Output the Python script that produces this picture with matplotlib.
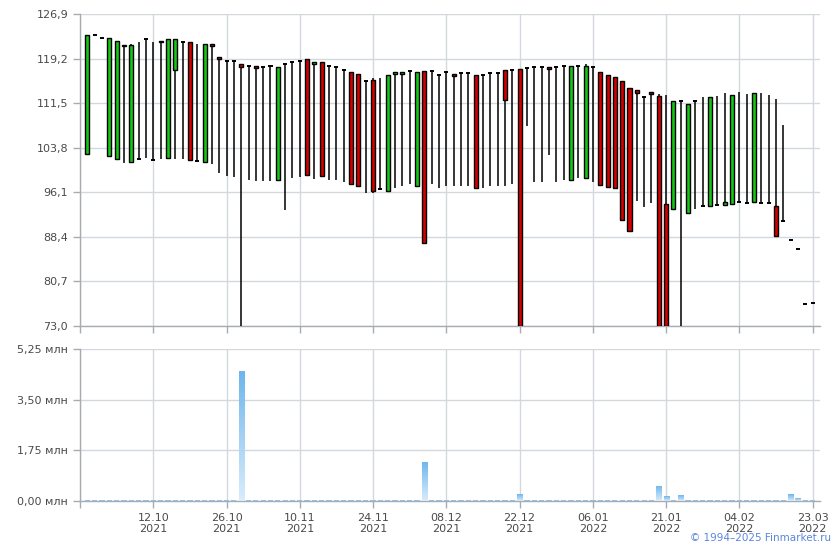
import matplotlib.pyplot as plt
import numpy as np
from matplotlib.colors import LinearSegmentedColormap

# OHLC, one entry per trading day
opens = [102.7, 123.3, 122.7, 102.4, 101.8, 121.5, 101.3, 101.8, 122.5, 101.6,
         122.2, 102.1, 117.2, 122.0, 122.0, 101.5, 101.3, 121.7, 119.4, 118.7,
         118.7, 118.2, 118.0, 118.0, 117.8, 117.9, 98.2, 118.3, 118.6, 118.7,
         119.1, 118.2, 118.6, 118.0, 117.7, 117.3, 116.9, 116.5, 115.3, 115.5,
         96.6, 96.4, 116.5, 116.5, 117.0, 97.1, 117.05, 117.05, 116.3, 116.9,
         116.5, 116.7, 116.7, 116.3, 116.3, 116.7, 116.7, 117.2, 117.2, 117.35,
         117.5, 117.7, 117.7, 117.7, 117.7, 117.9, 98.2, 118.0, 98.5, 117.7,
         116.8, 116.3, 116.1, 115.4, 114.1, 113.7, 112.5, 113.5, 112.7, 94.0,
         93.2, 111.8, 92.6, 111.8, 93.7, 93.7, 93.9, 93.85, 94.0, 94.4,
         94.25, 94.4, 94.25, 94.2, 93.7, 91.1, 87.8, 86.25, 76.75, 76.9]
highs = [123.3, 123.3, 122.7, 122.7, 122.2, 121.5, 121.7, 122.1, 122.5, 122.0,
         122.2, 122.5, 122.5, 122.0, 122.0, 121.7, 121.7, 121.7, 119.4, 118.7,
         118.7, 118.2, 118.0, 118.0, 117.8, 117.9, 117.8, 118.3, 118.6, 118.7,
         119.1, 118.6, 118.6, 118.0, 117.7, 117.3, 116.9, 116.5, 115.3, 115.8,
         115.8, 116.4, 116.9, 116.9, 117.0, 116.9, 117.05, 117.05, 116.3, 116.9,
         116.5, 116.7, 116.7, 116.3, 116.3, 116.7, 116.7, 117.2, 117.2, 117.35,
         117.5, 117.7, 117.7, 117.7, 117.7, 117.9, 117.9, 118.0, 118.2, 117.7,
         116.8, 116.3, 116.1, 115.4, 114.1, 113.7, 112.5, 113.5, 113.0, 112.85,
         111.8, 111.8, 111.3, 111.8, 112.5, 112.5, 112.7, 113.2, 112.85, 113.4,
         113.0, 113.2, 113.2, 112.85, 112.3, 107.7, 87.8, 86.25, 76.75, 76.9]
lows = [102.7, 123.3, 122.7, 102.4, 101.8, 101.2, 101.3, 101.8, 102.1, 101.6,
        101.8, 102.1, 101.9, 101.9, 101.6, 101.5, 101.3, 101.0, 99.4, 98.9,
        98.8, 73.0, 98.2, 98.1, 98.1, 98.0, 98.2, 93.0, 98.6, 98.8,
        99.0, 98.4, 98.9, 98.3, 98.2, 97.8, 97.5, 97.1, 95.9, 96.0,
        96.5, 96.4, 96.9, 97.1, 97.5, 97.1, 87.3, 97.5, 96.8, 97.2,
        97.1, 97.1, 97.1, 96.9, 96.9, 97.1, 97.1, 97.2, 97.5, 73.0,
        107.6, 97.9, 97.9, 102.6, 97.9, 98.2, 98.2, 98.5, 98.5, 97.9,
        97.3, 96.96, 96.8, 91.3, 89.4, 94.65, 93.6, 94.2, 73.0, 73.0,
        93.2, 73.0, 92.6, 93.2, 93.7, 93.7, 93.9, 93.85, 94.0, 94.4,
        94.25, 94.4, 94.25, 94.2, 88.5, 91.1, 87.8, 86.25, 76.75, 76.9]
closes = [123.3, 123.3, 122.7, 122.7, 122.2, 121.3, 121.5, 101.8, 122.5, 101.6,
          122.0, 122.5, 122.5, 122.0, 101.6, 101.5, 121.7, 121.3, 119.2, 118.7,
          118.7, 117.7, 118.0, 117.6, 117.8, 117.9, 117.7, 118.3, 118.6, 118.7,
          99.0, 118.6, 98.9, 118.0, 117.7, 117.3, 97.5, 97.1, 115.3, 96.4,
          96.6, 116.4, 116.9, 116.9, 117.0, 116.9, 87.3, 117.05, 116.3, 116.9,
          116.2, 116.7, 116.7, 96.9, 116.3, 116.7, 116.7, 112.0, 117.2, 73.0,
          117.5, 117.7, 117.7, 117.35, 117.7, 117.9, 117.9, 118.0, 118.0, 117.7,
          97.3, 96.96, 96.8, 91.3, 89.4, 113.2, 112.5, 113.0, 73.0, 73.0,
          111.8, 111.8, 111.3, 111.8, 93.7, 112.5, 93.9, 94.4, 112.85, 94.4,
          94.25, 113.2, 94.25, 94.2, 88.5, 91.1, 87.8, 86.25, 76.75, 76.9]

# volume, mln
volumes = [0.05, 0.05, 0.05, 0.05, 0.05, 0.05, 0.05, 0.05, 0.05, 0.05,
           0.05, 0.05, 0.05, 0.05, 0.05, 0.05, 0.05, 0.05, 0.05, 0.05,
           0.05, 4.49, 0.05, 0.05, 0.05, 0.05, 0.05, 0.05, 0.05, 0.05,
           0.05, 0.05, 0.05, 0.05, 0.05, 0.05, 0.05, 0.05, 0.05, 0.05,
           0.05, 0.05, 0.05, 0.05, 0.05, 0.05, 1.36, 0.05, 0.05, 0.05,
           0.05, 0.05, 0.05, 0.05, 0.05, 0.05, 0.05, 0.05, 0.05, 0.24,
           0.05, 0.05, 0.05, 0.05, 0.05, 0.05, 0.05, 0.05, 0.05, 0.05,
           0.05, 0.05, 0.05, 0.05, 0.05, 0.05, 0.05, 0.05, 0.52, 0.17,
           0.05, 0.20, 0.05, 0.05, 0.05, 0.05, 0.05, 0.05, 0.05, 0.05,
           0.05, 0.05, 0.05, 0.05, 0.05, 0.05, 0.24, 0.10, 0.05, 0.05]

tick_pos = [-1, 9, 19, 29, 39, 49, 59, 69, 79, 89, 99]
tick_labels = ['', '12.10\n2021', '26.10\n2021', '10.11\n2021', '24.11\n2021', '08.12\n2021',
               '22.12\n2021', '06.01\n2022', '21.01\n2022', '04.02\n2022', '23.03\n2022']
price_ticks = [73.0, 80.7, 88.4, 96.1, 103.8, 111.5, 119.2, 126.9]
vol_ticks = [0.0, 1.75, 3.5, 5.25]

grid_c = '#d3d8dc'
axis_c = '#a8acb2'
text_c = '#4a4a4a'

fig = plt.figure(figsize=(8.4, 5.5), dpi=100)
ax = fig.add_axes([80/840, 1-326/550, 740/840, 312/550])
axv = fig.add_axes([80/840, 1-501/550, 740/840, 152/550])

x = np.arange(len(opens))
o = np.array(opens); c = np.array(closes)
h = np.array(highs); l = np.array(lows)

ax.vlines(x, l, h, color='black', lw=1.1, zorder=3)
up = c > o
dn = c < o
flat = c == o
bw = 0.55
ax.bar(x[up], (c - o)[up], bottom=o[up], width=bw, color='#14c814', edgecolor='black', lw=1.0, zorder=4)
ax.bar(x[dn], (o - c)[dn], bottom=c[dn], width=bw, color='#d40000', edgecolor='black', lw=1.0, zorder=4)
ax.hlines(o[flat], x[flat] - bw/2, x[flat] + bw/2, color='black', lw=1.4, zorder=4)

ax.set_xlim(-1, 100)
ax.set_ylim(73.0, 126.9)
ax.set_yticks(price_ticks)
ax.set_yticklabels([f'{v:.1f}'.replace('.', ',') for v in price_ticks])
ax.set_xticks(tick_pos)
ax.set_xticklabels([])

# volume bars with a vertical gradient
bars = axv.bar(x, volumes, width=0.72, color='#8cc4ee', lw=0, zorder=3)
grad = np.linspace(1, 0, 100).reshape(-1, 1)
cmap = LinearSegmentedColormap.from_list('vol', ['#d9ecfb', '#6db6ee'])
for b in bars:
    if b.get_height() < 0.1:
        continue
    im = axv.imshow(grad, extent=[b.get_x(), b.get_x() + b.get_width(), 0, b.get_height()],
                    aspect='auto', cmap=cmap, zorder=4, origin='upper')
    im.set_clip_path(b)
axv.set_xlim(-1, 100)
axv.set_ylim(0, 5.25)
axv.set_yticks(vol_ticks)
axv.set_yticklabels([f'{v:.2f} млн'.replace('.', ',') for v in vol_ticks])
axv.set_xticks(tick_pos)
axv.set_xticklabels(tick_labels)

for a in (ax, axv):
    a.grid(True, color=grid_c, lw=1.0, zorder=0)
    a.set_axisbelow(True)
    for s in ('top', 'right'):
        a.spines[s].set_visible(False)
    for s in ('left', 'bottom'):
        a.spines[s].set_color(axis_c)
        a.spines[s].set_linewidth(1.0)
    a.tick_params(colors=axis_c, labelcolor=text_c, labelsize=8, length=5, width=1.0)

fig.text(0.99, 0.012, '© 1994–2025 Finmarket.ru', color='#5a85dc', fontsize=7.5, ha='right', va='bottom')

fig.savefig('out.png', dpi=100)
